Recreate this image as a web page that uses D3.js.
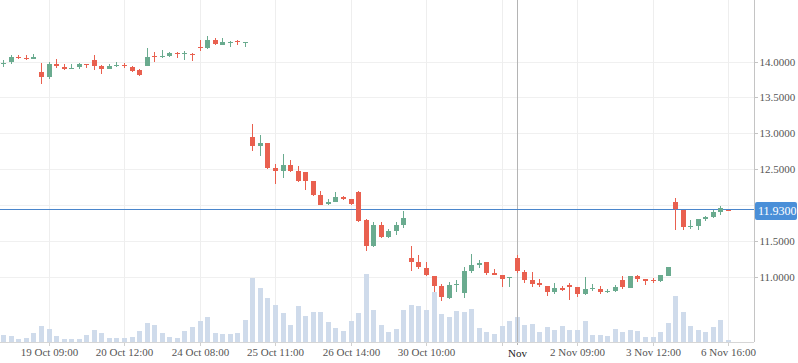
<!DOCTYPE html>
<html>
<head>
<meta charset="utf-8">
<script src="https://cdnjs.cloudflare.com/ajax/libs/d3/7.8.5/d3.min.js"></script>
<style>
    body { margin: 0; background: #fff; }
    svg { display: block; }
    .axis text { font-family: "Liberation Serif", serif; font-size: 11px; fill: #555; }
</style>
</head>
<body>
<div id="chart"></div>
<script>
//#region data
let opens = [13.963, 13.986, 14.070, 14.051, 14.042, 13.856, 13.786, 13.972, 13.926, 13.902,
    13.930, 13.972, 14.023, 13.940, 13.902, 13.944, 13.953, 13.926, 13.884, 13.944,
    14.074, 14.065, 14.084, 14.126, 14.116, 14.112, 14.209, 14.195, 14.302, 14.233,
    14.270, 14.284, 14.265, 12.949, 12.828, 12.866, 12.517, 12.479, 12.559, 12.475,
    12.461, 12.335, 12.140, 12.024, 12.047, 12.117, 12.084, 12.182, 11.791, 11.429,
    11.721, 11.559, 11.642, 11.726, 11.266, 11.205, 11.121, 11.010, 10.870, 10.703,
    10.889, 10.777, 11.084, 11.173, 11.201, 11.052, 11.024, 10.973, 11.256, 11.061,
    10.954, 10.917, 10.870, 10.777, 10.843, 10.884, 10.857, 10.759, 10.824, 10.829,
    10.791, 10.801, 10.954, 10.843, 11.015, 10.968, 10.950, 10.940, 11.010, 12.043,
    11.931, 11.698, 11.712, 11.815, 11.838, 11.908, 11.935];
let highs = [14.023, 14.093, 14.093, 14.088, 14.107, 13.986, 13.991, 14.037, 13.972, 13.963,
    13.986, 13.972, 14.093, 13.958, 13.972, 14.000, 13.986, 13.940, 13.893, 14.191,
    14.135, 14.163, 14.135, 14.135, 14.153, 14.126, 14.302, 14.358, 14.330, 14.330,
    14.288, 14.302, 14.274, 13.131, 12.977, 12.866, 12.573, 12.717, 12.628, 12.545,
    12.461, 12.335, 12.196, 12.084, 12.182, 12.131, 12.084, 12.196, 11.801, 11.759,
    11.763, 11.665, 11.763, 11.917, 11.433, 11.303, 11.205, 11.010, 10.894, 10.926,
    10.959, 11.140, 11.317, 11.233, 11.201, 11.108, 11.024, 11.001, 11.303, 11.094,
    11.066, 10.973, 10.870, 10.912, 10.870, 10.912, 10.857, 10.996, 10.898, 10.866,
    10.829, 10.884, 11.010, 11.010, 11.029, 10.968, 10.982, 11.024, 11.136, 12.098,
    11.931, 11.791, 11.805, 11.852, 11.931, 11.987, 11.935];
let lows = [13.930, 13.967, 14.033, 14.028, 14.042, 13.693, 13.763, 13.907, 13.888, 13.898,
    13.902, 13.916, 13.879, 13.833, 13.902, 13.926, 13.916, 13.860, 13.805, 13.944,
    13.995, 14.051, 14.070, 14.056, 14.028, 14.009, 14.153, 14.172, 14.233, 14.233,
    14.209, 14.233, 14.209, 12.759, 12.689, 12.507, 12.298, 12.382, 12.465, 12.321,
    12.210, 12.131, 12.005, 12.005, 12.047, 12.065, 12.005, 11.768, 11.359, 11.419,
    11.540, 11.540, 11.582, 11.684, 11.084, 11.103, 11.014, 10.791, 10.666, 10.689,
    10.787, 10.708, 11.047, 11.121, 11.028, 11.019, 10.861, 10.861, 11.056, 10.917,
    10.861, 10.861, 10.736, 10.763, 10.796, 10.675, 10.722, 10.750, 10.796, 10.759,
    10.777, 10.791, 10.829, 10.843, 10.926, 10.884, 10.908, 10.926, 11.010, 11.652,
    11.652, 11.666, 11.652, 11.782, 11.824, 11.866, 11.925];
let closes = [13.977, 14.060, 14.056, 14.037, 14.065, 13.786, 13.967, 13.940, 13.898, 13.912,
    13.967, 13.958, 13.944, 13.902, 13.940, 13.953, 13.935, 13.865, 13.819, 14.065,
    14.060, 14.079, 14.126, 14.116, 14.126, 14.102, 14.200, 14.302, 14.247, 14.274,
    14.279, 14.270, 14.274, 12.828, 12.866, 12.521, 12.479, 12.559, 12.479, 12.335,
    12.340, 12.145, 12.005, 12.047, 12.112, 12.089, 12.019, 11.782, 11.433, 11.726,
    11.559, 11.638, 11.721, 11.819, 11.215, 11.131, 11.024, 10.875, 10.712, 10.884,
    10.903, 11.080, 11.163, 11.196, 11.052, 11.028, 10.973, 10.991, 11.070, 10.945,
    10.903, 10.889, 10.782, 10.838, 10.815, 10.861, 10.763, 10.829, 10.843, 10.791,
    10.805, 10.857, 10.857, 11.010, 10.973, 10.945, 10.936, 11.024, 11.136, 11.940,
    11.698, 11.712, 11.805, 11.838, 11.903, 11.959, 11.925];
let volumes = [22, 19, 10, 13, 28, 49, 40, 19, 10, 10,
    10, 22, 37, 28, 13, 13, 13, 16, 34, 58,
    52, 28, 16, 13, 34, 46, 64, 76, 28, 25,
    25, 28, 67, 193, 163, 133, 112, 88, 52, 109,
    79, 91, 91, 61, 43, 34, 64, 88, 205, 97,
    52, 31, 40, 97, 112, 109, 97, 151, 85, 76,
    94, 91, 100, 43, 31, 25, 49, 64, 76, 52,
    55, 31, 46, 37, 49, 37, 37, 64, 22, 22,
    19, 40, 31, 37, 34, 16, 16, 31, 58, 139,
    91, 49, 37, 31, 46, 67, 7].map(v => v * 1000);

let timeTicks = [6, 16, 26, 36, 46, 56, 66, 76, 86, 96];
let timeLabels = ['19 Oct 09:00', '20 Oct 12:00', '24 Oct 08:00', '25 Oct 11:00', '26 Oct 14:00',
    '30 Oct 10:00', '', '2 Nov 09:00', '3 Nov 12:00', '6 Nov 16:00'];
let crossIndex = 68, crossLabel = 'Nov';
let priceTicks = [11, 11.5, 12, 12.5, 13, 13.5, 14];
let lastPrice = 11.93;
//#endregion

//#region variables
let width = 798,
    height = 363,
    plotRight = 754,
    plotBottom = 342,
    upColor = '#6aab8f',
    downColor = '#e9604f';
//#endregion

let svg = d3.select('#chart')
    .append('svg')
    .attr('width', width)
    .attr('height', height)
    .attr('shape-rendering', 'crispEdges');

let xScale = d3.scaleLinear()
    .domain([0, opens.length - 1])
    .range([3.2, 728]);

let yScale = d3.scaleLinear()
    .domain([11, 14])
    .range([276.6, 61.6]);

let volScale = d3.scaleLinear()
    .domain([0, d3.max(volumes)])
    .range([plotBottom, plotBottom - 68.3]);

let px = i => Math.round(xScale(i));

//#region grid
svg.append('g').selectAll('line')
    .data(priceTicks)
    .enter()
    .append('line')
    .attr('x1', 0)
    .attr('x2', plotRight)
    .attr('y1', d => Math.round(yScale(d)) + 0.5)
    .attr('y2', d => Math.round(yScale(d)) + 0.5)
    .attr('stroke', '#f0f0f0');

svg.append('g').selectAll('line')
    .data(timeTicks)
    .enter()
    .append('line')
    .attr('x1', d => px(d) + 0.5)
    .attr('x2', d => px(d) + 0.5)
    .attr('y1', 0)
    .attr('y2', plotBottom)
    .attr('stroke', '#eeeeee');
//#endregion

//#region volume
svg.append('g').selectAll('rect')
    .data(volumes)
    .enter()
    .append('rect')
    .attr('x', (d, i) => px(i) - 2)
    .attr('width', 5)
    .attr('y', d => volScale(d))
    .attr('height', d => plotBottom - volScale(d))
    .attr('fill', '#cfdbeb');
//#endregion

//#region crosshair + price line
svg.append('line')
    .attr('x1', px(crossIndex) + 0.5)
    .attr('x2', px(crossIndex) + 0.5)
    .attr('y1', 0)
    .attr('y2', plotBottom + 3)
    .attr('stroke', '#b4b4b4');

let lastY = Math.round(yScale(lastPrice)) - 0.5;
svg.append('line')
    .attr('x1', 0)
    .attr('x2', plotRight)
    .attr('y1', lastY)
    .attr('y2', lastY)
    .attr('stroke', '#4a86cc');
//#endregion

//#region candles
let candles = svg.append('g').selectAll('g')
    .data(opens)
    .enter()
    .append('g')
    .attr('fill', (d, i) => closes[i] >= opens[i] ? upColor : downColor)
    .attr('stroke', (d, i) => closes[i] >= opens[i] ? upColor : downColor);

candles.append('line')
    .attr('x1', (d, i) => px(i) + 0.5)
    .attr('x2', (d, i) => px(i) + 0.5)
    .attr('y1', (d, i) => Math.round(yScale(highs[i])))
    .attr('y2', (d, i) => Math.round(yScale(lows[i])));

candles.append('rect')
    .attr('stroke', 'none')
    .attr('x', (d, i) => px(i) - 2)
    .attr('width', 5)
    .attr('y', (d, i) => Math.round(yScale(Math.max(opens[i], closes[i]))))
    .attr('height', (d, i) => Math.max(1, Math.round(Math.abs(yScale(opens[i]) - yScale(closes[i])))));
//#endregion

//#region axes
let axisY = d3.axisRight(yScale)
    .tickValues(priceTicks.filter(d => Math.abs(yScale(d) - yScale(lastPrice)) > 12))
    .tickSize(3)
    .tickPadding(2)
    .tickFormat(d3.format('.4f'));

let gy = svg.append('g')
    .attr('class', 'axis')
    .attr('transform', `translate(${plotRight + 0.5}, 0)`)
    .call(axisY);
gy.select('.domain').attr('d', `M0,0V${plotBottom}`).attr('stroke', '#c4c4c4');
gy.selectAll('.tick line').attr('stroke', '#c4c4c4');

let axisX = d3.axisBottom(xScale)
    .tickValues(timeTicks)
    .tickSize(3)
    .tickPadding(3)
    .tickFormat((d, i) => timeLabels[i]);

let gx = svg.append('g')
    .attr('class', 'axis')
    .attr('transform', `translate(0, ${plotBottom + 0.5})`)
    .call(axisX);
gx.select('.domain').attr('d', `M0,0H${plotRight}`).attr('stroke', '#d6d6d6');
gx.selectAll('.tick').attr('transform', d => `translate(${px(d) + 0.5},0)`);
gx.selectAll('.tick line').attr('stroke', '#d0d0d0');

svg.append('text')
    .attr('x', px(crossIndex) + 0.5)
    .attr('y', plotBottom + 15)
    .attr('text-anchor', 'middle')
    .style('font-family', '"Liberation Serif", serif')
    .style('font-size', '11px')
    .attr('fill', '#222')
    .text(crossLabel);
//#endregion

//#region price label
svg.append('rect')
    .attr('x', plotRight + 1)
    .attr('y', lastY - 7.5)
    .attr('width', width - plotRight - 2)
    .attr('height', 18)
    .attr('rx', 2)
    .attr('fill', '#4a8fd8')
    .attr('shape-rendering', 'auto');

svg.append('text')
    .attr('x', plotRight + 4)
    .attr('y', lastY + 5.5)
    .style('font-family', '"Liberation Serif", serif')
    .style('font-size', '12px')
    .attr('fill', '#fff')
    .text(d3.format('.4f')(lastPrice));
//#endregion
</script>
</body>
</html>
